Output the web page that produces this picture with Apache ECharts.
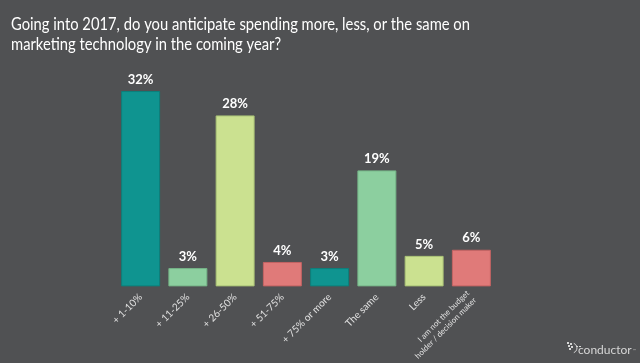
<!DOCTYPE html>
<html><head><meta charset="utf-8">
<script src="https://cdn.jsdelivr.net/npm/echarts@6/dist/echarts.min.js"></script>
<style>html,body{margin:0;padding:0;background:#505153;}#c{width:640px;height:363px;}</style>
</head><body><div id="c"></div>
<script>
const categories = ['+ 1-10%', '+ 11-25%', '+ 26-50%', '+ 51-75%', '+ 75% or more', 'The same', 'Less', 'I am not the budget\nholder / decision maker'];
const values = [32, 3, 28, 4, 3, 19, 5, 6];
const barColors = ['#0f9490', '#8ccf9f', '#cbe190', '#e07a79', '#0f9490', '#8ccf9f', '#cbe190', '#e07a79'];
const borderColors = ['#0c7f7b', '#75b487', '#a9c276', '#c46363', '#0c7f7b', '#75b487', '#a9c276', '#c46363'];
const titleText = 'Going into 2017, do you anticipate spending more, less, or the same on\nmarketing technology in the coming year?';

const chart = echarts.init(document.getElementById('c'), null, {renderer: 'canvas'});
chart.setOption({
  backgroundColor: '#505153',
  animation: false,
  grid: {left: 117, right: 145, top: 72.7, bottom: 74.7},
  xAxis: {
    type: 'category', data: categories,
    axisLine: {show: false}, axisTick: {show: false},
    axisLabel: {
      rotate: 45, interval: 0, margin: 9, color: '#e0e0e0',
      fontFamily: 'Lato', fontSize: 10, lineHeight: 11,
      formatter: function (v, i) { return i === 7 ? '{s|' + v.replace('\n', '}\n{s|') + '}' : v; },
      rich: {s: {fontSize: 8, lineHeight: 10, color: '#e0e0e0', fontFamily: 'Lato'}}
    }
  },
  yAxis: {type: 'value', min: 0, max: 35, show: false, splitLine: {show: false}},
  series: [{
    type: 'bar', barCategoryGap: '17.5%',
    data: values.map((v, i) => ({value: v, itemStyle: {color: barColors[i], borderColor: borderColors[i], borderWidth: 1}})),
    label: {show: true, position: 'top', distance: 5, formatter: '{c}%', color: '#ffffff', fontFamily: 'Lato', fontWeight: 'bold', fontSize: 13}
  }],
  graphic: [
    {type: 'text', x: 11, y: 14, scaleX: 0.82, scaleY: 1,
     style: {text: titleText, fill: '#ffffff', font: '18px Lato', lineHeight: 20, verticalAlign: 'top'}},
    {type: 'text', x: 578, y: 344, style: {text: 'conductor', fill: '#d6d6d6', font: '12px Lato', verticalAlign: 'top'}},
    {type: 'text', x: 633, y: 349, style: {text: '™', fill: '#bdbdbd', font: '4px Lato', verticalAlign: 'top'}},
    {type: 'group', x: 567, y: 342, children: [
      {type: 'rect', shape: {x: 0, y: 0, width: 2, height: 2}, style: {fill: '#d6d6d6'}},
      {type: 'rect', shape: {x: 3, y: 1, width: 2, height: 2}, style: {fill: '#d6d6d6'}},
      {type: 'rect', shape: {x: 1, y: 3, width: 2, height: 2}, style: {fill: '#d6d6d6'}},
      {type: 'rect', shape: {x: 4, y: 4, width: 2, height: 2}, style: {fill: '#d6d6d6'}},
      {type: 'rect', shape: {x: 2, y: 6, width: 2, height: 2}, style: {fill: '#d6d6d6'}},
      {type: 'arc', shape: {cx: 5, cy: 6, r: 5, startAngle: -1.2, endAngle: 1.2}, style: {stroke: '#d6d6d6', lineWidth: 1, fill: null}},
      {type: 'rect', shape: {x: 9, y: 4, width: 2, height: 1}, style: {fill: '#d6d6d6'}},
      {type: 'rect', shape: {x: 12, y: 4, width: 2, height: 1}, style: {fill: '#d6d6d6'}}
    ]}
  ]
});
</script></body></html>
